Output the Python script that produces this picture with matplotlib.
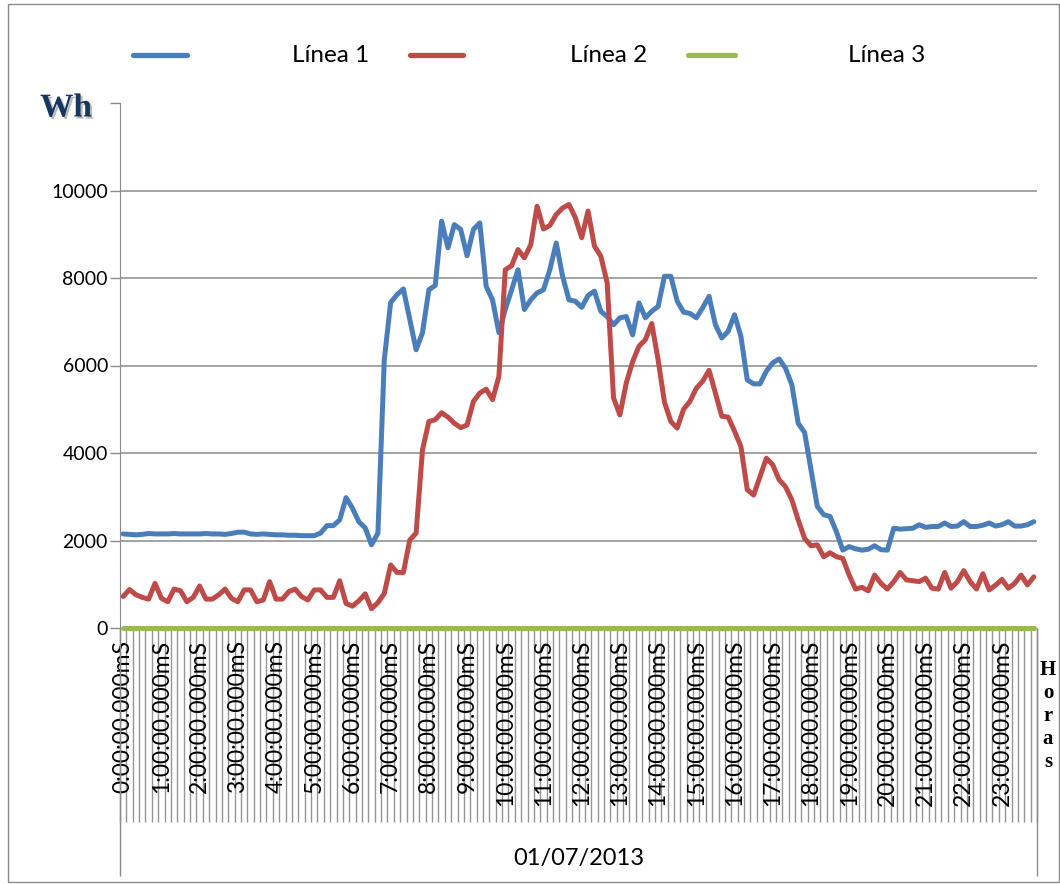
import matplotlib
matplotlib.use("Agg")
import matplotlib.pyplot as plt
import matplotlib.patheffects as pe
import numpy as np

plt.rcParams['font.family'] = ['Lato', 'DejaVu Sans']

# consumo cada 10 minutos (144 muestras) del 01/07/2013
linea1 = [2150, 2140, 2130, 2140, 2160, 2150, 2150, 2150, 2160, 2150,
          2150, 2150, 2150, 2160, 2150, 2150, 2140, 2160, 2190, 2190,
          2150, 2140, 2150, 2140, 2130, 2130, 2120, 2120, 2110, 2110,
          2110, 2170, 2340, 2340, 2470, 2980, 2740, 2430, 2290, 1900,
          2170, 6130, 7440, 7620, 7750, 7050, 6360, 6750, 7730, 7830,
          9300, 8690, 9220, 9110, 8510, 9110, 9260, 7810, 7500, 6750,
          7280, 7730, 8190, 7280, 7500, 7660, 7730, 8190, 8800, 8040,
          7500, 7470, 7330, 7600, 7700, 7240, 7120, 6930, 7090, 7120,
          6700, 7430, 7090, 7240, 7350, 8040, 8040, 7470, 7220, 7190,
          7090, 7320, 7580, 6930, 6630, 6780, 7160, 6670, 5670, 5580,
          5580, 5870, 6060, 6150, 5940, 5560, 4680, 4470, 3620, 2780,
          2590, 2550, 2200, 1780, 1860, 1810, 1780, 1800, 1880, 1790,
          1780, 2280, 2260, 2270, 2280, 2360, 2300, 2320, 2320, 2400,
          2320, 2330, 2430, 2320, 2320, 2350, 2400, 2330, 2360, 2430,
          2330, 2330, 2360, 2430]
linea2 = [720, 880, 760, 700, 660, 1020, 680, 600, 890, 850,
          600, 700, 960, 660, 660, 760, 890, 680, 600, 870,
          870, 600, 640, 1060, 660, 660, 830, 890, 720, 640,
          870, 870, 700, 700, 1080, 560, 500, 620, 780, 440,
          580, 790, 1440, 1270, 1270, 2010, 2170, 4070, 4720, 4760,
          4920, 4820, 4680, 4580, 4640, 5180, 5370, 5460, 5220, 5750,
          8190, 8280, 8650, 8460, 8760, 9640, 9120, 9200, 9450, 9600,
          9680, 9380, 8920, 9530, 8730, 8500, 7890, 5260, 4870, 5600,
          6090, 6440, 6590, 6960, 6130, 5160, 4720, 4570, 5000, 5180,
          5480, 5640, 5890, 5370, 4840, 4820, 4500, 4150, 3160, 3040,
          3460, 3880, 3730, 3390, 3230, 2930, 2470, 2050, 1880, 1900,
          1630, 1720, 1630, 1590, 1210, 890, 930, 850, 1210, 1020,
          890, 1060, 1270, 1100, 1080, 1060, 1140, 910, 890, 1270,
          910, 1060, 1310, 1060, 890, 1240, 870, 980, 1110, 910,
          1020, 1210, 985, 1170]
linea3 = [0] * 144

horas = [f"{h}:00:00.000mS" for h in range(24)]
fecha = "01/07/2013"
nombres = ["Línea 1", "Línea 2", "Línea 3"]
colores = ['#4a7ebb', '#be4b48', '#98b954']

W, H = 1060, 884
fig = plt.figure(figsize=(W / 100, H / 100), dpi=100)

def fx(px):
    return px / W

def fy(py):
    return 1 - py / H

x0, x1, ytop, ybot = 120, 1037, 103, 628
ax = fig.add_axes([fx(x0), fy(ybot), fx(x1) - fx(x0), fy(ytop) - fy(ybot)])

n = len(linea1)
xs = np.arange(n) + 0.5
for serie, c in zip([linea1, linea2, linea3], colores):
    ax.plot(xs, serie, color=c, lw=3.6, solid_joinstyle='round',
            solid_capstyle='round', clip_on=False, zorder=3)

ax.set_xlim(0, n)
ax.set_ylim(0, 12000)
ax.set_yticks(range(0, 12001, 2000))
ax.set_yticklabels([str(v) for v in range(0, 10001, 2000)] + [""])
for v in range(2000, 10001, 2000):
    ax.axhline(v, color='#8a8a8a', lw=1.1, zorder=1)

ax.tick_params(axis='y', length=7.2, width=1, color='#8a8a8a', pad=1.5,
               labelsize=14)
ax.set_xticks([])
for s in ['top', 'right', 'bottom']:
    ax.spines[s].set_visible(False)
ax.spines['left'].set_color('#8a8a8a')
ax.spines['left'].set_bounds(0, 12000)

# marcas de categoria y etiquetas horarias
tr = ax.get_xaxis_transform()
marca = (ybot - 822) / (ybot - ytop)
ax.vlines(np.arange(n + 1), marca, 0, transform=tr, color='#959595',
          lw=1.0, clip_on=False, zorder=0)
for k, lab in enumerate(horas):
    ax.text(k * 6 + 0.5, (ybot - 640) / (ybot - ytop), lab, transform=tr,
            rotation=90, ha='center', va='top', fontsize=16.5, zorder=2)

sep = (ybot - 876) / (ybot - ytop)
ax.vlines([0, n], sep, 0, transform=tr, color='#8a8a8a', lw=1.0,
          clip_on=False)
ax.text(n / 2, (ybot - 858) / (ybot - ytop), fecha, transform=tr,
        ha='center', va='center', fontsize=17)

# rotulos de unidades
fig.text(fx(1048), fy(660), "H\no\nr\na\ns", ha='center', va='top',
         family='Liberation Serif', weight='bold', fontsize=15,
         linespacing=1.2)
fig.text(fx(66), fy(108), "Wh", ha='center', va='center',
         family='Liberation Serif', weight='bold', fontsize=24,
         color='#17375e',
         path_effects=[pe.withSimplePatchShadow(offset=(1.5, -1.5),
                                                shadow_rgbFace='#b8b8b8',
                                                alpha=1.0)])

# leyenda
for (l0, l1, tx), nombre, c in zip([(133, 187, 292), (410, 463, 570),
                                     (688, 735, 848)], nombres, colores):
    fig.add_artist(plt.Line2D([fx(l0), fx(l1)], [fy(55), fy(55)], color=c,
                              lw=3.8, solid_capstyle='round'))
    fig.text(fx(tx), fy(55), nombre, ha='left', va='center', fontsize=17.5)

# marco del grafico
fig.add_artist(plt.Rectangle((fx(8), fy(882)), fx(1059) - fx(8),
                             fy(4) - fy(882), fill=False, ec='#8a8a8a',
                             lw=1.0))

fig.savefig('out.png', dpi=100)
